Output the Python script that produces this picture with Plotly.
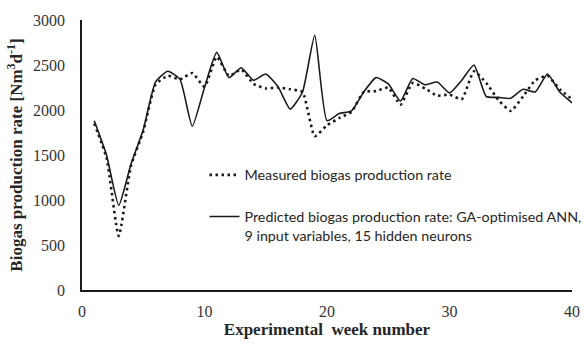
import plotly.graph_objects as go

weeks = list(range(1, 41))

measured = [1850, 1470, 600, 1380, 1760, 2280, 2380, 2340, 2410, 2260,
            2590, 2380, 2450, 2290, 2240, 2250, 2230, 2200, 1710, 1830,
            1910, 1980, 2200, 2210, 2250, 2060, 2300, 2240, 2160, 2170,
            2120, 2430, 2300, 2110, 1990, 2150, 2330, 2380, 2230, 2120]

predicted = [1880, 1500, 940, 1400, 1780, 2310, 2430, 2340, 1820, 2250,
             2640, 2360, 2470, 2330, 2400, 2260, 2010, 2200, 2830, 1880,
             1960, 1990, 2200, 2360, 2290, 2100, 2350, 2280, 2310, 2190,
             2330, 2500, 2150, 2140, 2130, 2230, 2200, 2400, 2200, 2080]

x_ticks = [0, 10, 20, 30, 40]
y_ticks = [0, 500, 1000, 1500, 2000, 2500, 3000]

serif = "Liberation Serif, Times New Roman, serif"
sans = "Lato, Carlito, Calibri, sans-serif"

fig = go.Figure()
fig.add_trace(go.Scatter(
    x=weeks, y=measured, mode="lines",
    name="Measured biogas production rate",
    legendgroup="m",
    line=dict(color="#1a1a1a", width=2.6, dash="2.5px,3.5px", shape="spline", smoothing=0.5),
))
fig.add_trace(go.Scatter(
    x=weeks, y=predicted, mode="lines",
    name="Predicted biogas production rate: GA-optimised ANN,<br>9 input variables, 15 hidden neurons",
    legendgroup="p",
    line=dict(color="#1a1a1a", width=1.6, shape="spline", smoothing=0.5),
))

fig.update_layout(
    width=584, height=347,
    margin=dict(l=82, r=12, t=20, b=57, autoexpand=False),
    paper_bgcolor="white", plot_bgcolor="white",
    showlegend=True,
    legend=dict(
        x=0.25, y=0.485, xanchor="left", yanchor="top",
        bgcolor="rgba(0,0,0,0)", borderwidth=0,
        font=dict(family=sans, size=14.3, color="#262626"),
        traceorder="grouped", tracegroupgap=20, valign="top",
        itemwidth=30,
    ),
    xaxis=dict(
        range=[0, 40], tickvals=x_ticks, showgrid=False, zeroline=False,
        showline=True, linecolor="#1a1a1a", linewidth=1.5, ticks="",
        tickfont=dict(family=serif, size=16, color="#333333"),
        ticklabelstandoff=6,
        title=dict(text="<b>Experimental  week number</b>",
                   font=dict(family=serif, size=17, color="#262626"), standoff=1),
    ),
    yaxis=dict(
        range=[0, 3000], tickvals=y_ticks, showgrid=False, zeroline=False,
        showline=True, linecolor="#1a1a1a", linewidth=1.5, ticks="",
        tickfont=dict(family=serif, size=16, color="#333333"),
        ticklabelstandoff=12,
        title=dict(text="<b>Biogas production rate [Nm<sup>3</sup>d<sup>-1</sup>]</b>",
                   font=dict(family=serif, size=17, color="#262626"), standoff=6),
    ),
)

fig.write_html("out.html")
